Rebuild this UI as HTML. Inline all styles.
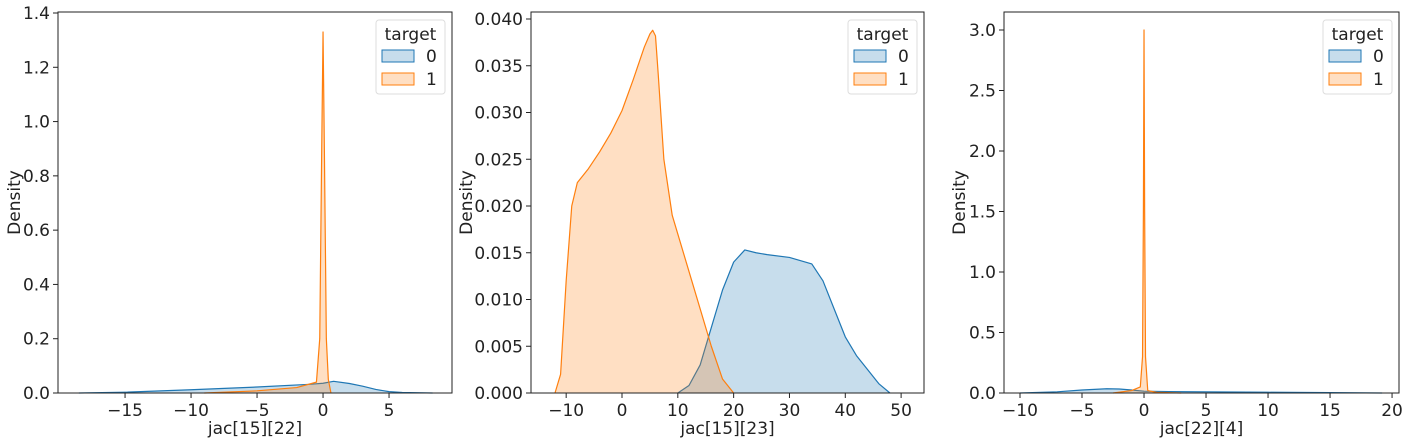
<!DOCTYPE html>
<html><head><meta charset="utf-8"><style>
body{margin:0;background:#fff}
svg{display:block;font-family:"DejaVu Sans","Liberation Sans",sans-serif}
</style></head><body>
<svg id="c" width="1407" height="441"></svg>
<script>
// Panel 1 data
const p1Class0X=[-18.5,-15,-10,-5,-1,0,0.8,2,3,4,5,6,8.3];
const p1Class0Y=[0,0.003,0.012,0.022,0.032,0.036,0.043,0.035,0.025,0.013,0.005,0.002,0];
const p1Class1X=[-9,-5,-2,-0.5,-0.25,-0.1,0,0.1,0.25,0.4,0.6];
const p1Class1Y=[0,0.008,0.02,0.04,0.2,0.9,1.33,0.9,0.2,0.05,0];
// Panel 2 data
const p2Class0X=[10,12,14,16,18,20,22,24,26,30,34,36,38,40,42,44,46,48];
const p2Class0Y=[0,0.0008,0.003,0.007,0.011,0.014,0.0153,0.015,0.0148,0.0145,0.0138,0.012,0.009,0.006,0.004,0.0025,0.001,0];
const p2Class1X=[-12,-11,-10,-9,-8,-6,-4,-2,0,2,4,5,5.5,6,6.5,7.5,9,10,12,14,16,18,20];
const p2Class1Y=[0,0.002,0.012,0.02,0.0225,0.024,0.0258,0.0278,0.0302,0.0335,0.037,0.0384,0.0388,0.0382,0.034,0.025,0.019,0.017,0.013,0.009,0.005,0.0015,0];
// Panel 3 data
const p3Class0X=[-10,-7,-5,-3,-2,-1,0,2,5,10,15,19.2];
const p3Class0Y=[0,0.01,0.025,0.035,0.033,0.025,0.015,0.012,0.01,0.006,0.003,0];
const p3Class1X=[-2.5,-1,-0.3,-0.12,-0.05,0,0.05,0.12,0.3,1,3];
const p3Class1Y=[0,0.02,0.05,0.3,1.5,3.0,1.5,0.3,0.02,0.005,0];
// ticks
const p1XTicks=[-15,-10,-5,0,5];
const p1YTicks=[0,0.2,0.4,0.6,0.8,1.0,1.2,1.4];
const p1YLabels=["0.0","0.2","0.4","0.6","0.8","1.0","1.2","1.4"];
const p2XTicks=[-10,0,10,20,30,40,50];
const p2YTicks=[0,0.005,0.01,0.015,0.02,0.025,0.03,0.035,0.04];
const p2YLabels=["0.000","0.005","0.010","0.015","0.020","0.025","0.030","0.035","0.040"];
const p3XTicks=[-10,-5,0,5,10,15,20];
const p3YTicks=[0,0.5,1,1.5,2,2.5,3];
const p3YLabels=["0.0","0.5","1.0","1.5","2.0","2.5","3.0"];

const NS="http://www.w3.org/2000/svg";
const svg=document.getElementById('c');
const FS=17;
function mk(t,a,p){const e=document.createElementNS(NS,t);for(const k in a)e.setAttribute(k,a[k]);(p||svg).appendChild(e);return e;}
function fmt(v){return v<0?'\u2212'+(-v):String(v);}

function panel(cfg){
  const g=mk('g',{});
  
  
  const sx=v=>cfg.x0+(v-cfg.xmin)*(cfg.x1-cfg.x0)/(cfg.xmax-cfg.xmin);
  const sy=v=>cfg.y1-(v-cfg.ymin)*(cfg.y1-cfg.y0)/(cfg.ymax-cfg.ymin);
  function area(xs,ys,fill,stroke,name){
    let d='M'+sx(xs[0])+','+sy(0);
    xs.forEach((x,i)=>d+=' L'+sx(x).toFixed(2)+','+sy(ys[i]).toFixed(2));
    d+=' L'+sx(xs[xs.length-1])+','+sy(0)+'Z';
    const p=mk('path',{d:d,fill:fill,'fill-opacity':0.25,stroke:'none'},g);
    
    
    let l='';
    xs.forEach((x,i)=>l+=(i?' L':'M')+sx(x).toFixed(2)+','+sy(ys[i]).toFixed(2));
    const q=mk('path',{d:l,fill:'none',stroke:stroke,'stroke-width':1.2,'stroke-linejoin':'round'},g);
    
    
  }
  area(cfg.c0x,cfg.c0y,'#1f77b4','#1f77b4','class-0-density');
  area(cfg.c1x,cfg.c1y,'#ff7f0e','#ff7f0e','class-1-density');
  const fr=mk('rect',{x:cfg.x0,y:cfg.y0a,width:cfg.x1-cfg.x0,height:cfg.y1-cfg.y0a,fill:'none',stroke:'#222','stroke-width':1},g);
  
  
  cfg.xt.forEach(v=>{
    const X=sx(v);
    mk('line',{x1:X,x2:X,y1:cfg.y1,y2:cfg.y1+5,stroke:'#222'},g);
    const t=mk('text',{x:X,y:cfg.y1+23,'font-size':FS,'text-anchor':'middle',fill:'#222'},g);
    t.textContent=fmt(v);
    
    
  });
  cfg.yt.forEach((v,i)=>{
    const Y=sy(v);
    mk('line',{x1:cfg.x0-5,x2:cfg.x0,y1:Y,y2:Y,stroke:'#222'},g);
    const t=mk('text',{x:cfg.x0-8,y:Y+6,'font-size':FS,'text-anchor':'end',fill:'#222'},g);
    t.textContent=cfg.yl[i];
    
    
  });
  const xl=mk('text',{x:(cfg.x0+cfg.x1)/2,y:434,'font-size':FS,'text-anchor':'middle',fill:'#222'},g);
  xl.textContent=cfg.xlabel;
  
  
  const yx=cfg.ylx, yy=(cfg.y0a+cfg.y1)/2;
  const yl=mk('text',{x:yx,y:yy,'font-size':FS,'text-anchor':'middle',fill:'#222',transform:`rotate(-90 ${yx} ${yy})`},g);
  yl.textContent='Density';
  
  
  // legend
  const lg=mk('g',{},g);
  
  
  const lx=cfg.x1-76;
  mk('rect',{x:lx,y:20,width:69,height:74,rx:3,fill:'#fff','fill-opacity':0.8,stroke:'#ddd'},lg);
  const tt=mk('text',{x:lx+34.5,y:40,'font-size':FS,'text-anchor':'middle',fill:'#222'},lg);
  tt.textContent='target';
  [['0','#1f77b4'],['1','#ff7f0e']].forEach((e,i)=>{
    const r=mk('rect',{x:lx+6,y:50+i*23,width:32,height:12,fill:e[1],'fill-opacity':0.25,stroke:e[1]},lg);
    
    
    const t=mk('text',{x:lx+50,y:62+i*23,'font-size':FS,fill:'#222'},lg);
    t.textContent=e[0];
  });
}
panel({name:'panel-jac-15-22',x0:58,x1:452,y0a:12,y1:393,xmin:-20.08,xmax:9.77,ymin:0,ymax:1.4,y0:13,
  c0x:p1Class0X,c0y:p1Class0Y,c1x:p1Class1X,c1y:p1Class1Y,xt:p1XTicks,yt:p1YTicks,yl:p1YLabels,xlabel:'jac[15][22]',ylx:20});
panel({name:'panel-jac-15-23',x0:531,x1:924,y0a:12,y1:393,xmin:-16.3,xmax:54.1,ymin:0,ymax:0.04,y0:19,
  c0x:p2Class0X,c0y:p2Class0Y,c1x:p2Class1X,c1y:p2Class1Y,xt:p2XTicks,yt:p2YTicks,yl:p2YLabels,xlabel:'jac[15][23]',ylx:472});
panel({name:'panel-jac-22-4',x0:1004,x1:1399,y0a:12,y1:393,xmin:-11.29,xmax:20.56,ymin:0,ymax:3,y0:30,
  c0x:p3Class0X,c0y:p3Class0Y,c1x:p3Class1X,c1y:p3Class1Y,xt:p3XTicks,yt:p3YTicks,yl:p3YLabels,xlabel:'jac[22][4]',ylx:965});
</script>
</body></html>
